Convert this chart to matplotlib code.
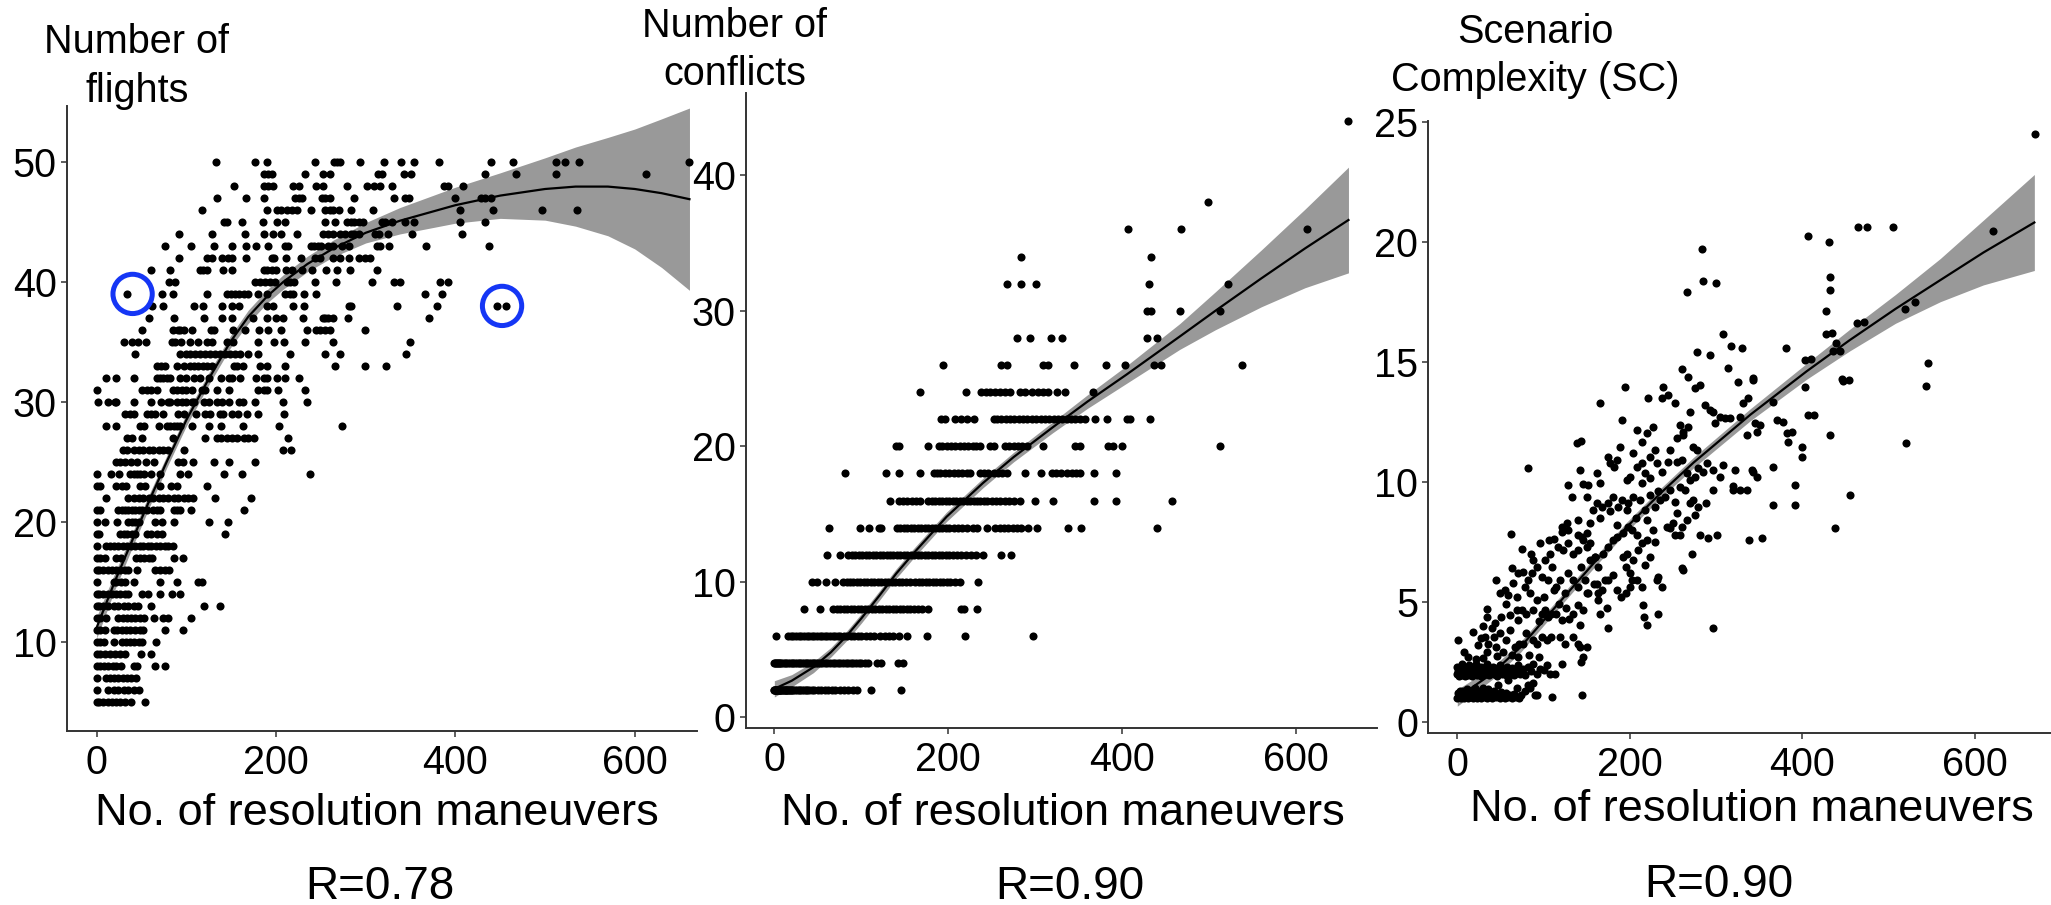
import matplotlib
matplotlib.use("Agg")
import matplotlib.pyplot as plt
import numpy as np

plt.rcParams["font.family"] = ["Liberation Sans", "DejaVu Sans"]

# ---------------- data ----------------
# panel 1: number of flights (integer levels) vs no. of resolution maneuvers
flight_levels = list(range(50, 4, -1))
flight_maneuvers = [
    [133, 177, 190, 243, 265, 268, 271, 294, 320, 339, 354, 382, 440, 464, 512, 522, 538, 661],
    [186, 191, 195, 232, 252, 260, 314, 318, 343, 351, 433, 467, 512, 612],
    [153, 186, 191, 197, 219, 226, 245, 252, 279, 301, 309, 316, 329, 387, 392, 408],
    [134, 166, 186, 221, 226, 229, 251, 255, 260, 287, 331, 344, 348, 400, 428, 433, 440],
    [117, 190, 201, 206, 212, 218, 223, 239, 255, 260, 264, 270, 284, 308, 405, 442, 497, 536],
    [142, 145, 162, 185, 201, 210, 255, 266, 279, 283, 287, 292, 297, 318, 322, 329, 344, 354, 405, 433],
    [92, 128, 165, 187, 197, 205, 223, 252, 258, 263, 271, 277, 283, 287, 292, 310, 315, 325, 352, 407],
    [76, 105, 131, 151, 167, 178, 191, 210, 213, 239, 242, 247, 250, 258, 264, 273, 281, 312, 316, 326, 367, 437],
    [92, 123, 128, 140, 146, 151, 167, 195, 198, 211, 228, 243, 249, 264, 271, 281, 292, 299, 305],
    [61, 82, 115, 119, 123, 141, 151, 186, 190, 195, 200, 211, 218, 229, 240, 256, 268, 282, 313],
    [81, 87, 176, 182, 188, 193, 199, 212, 216, 220, 243, 267, 307, 331, 338, 383, 392],
    [34, 73, 85, 123, 145, 150, 154, 159, 164, 169, 180, 190, 210, 216, 219, 231, 244, 366, 385],
    [62, 74, 108, 118, 140, 151, 159, 190, 197, 219, 231, 281, 284, 335, 379, 446, 456],
    [58, 86, 120, 140, 151, 174, 190, 200, 208, 230, 252, 255, 258, 264, 280, 371],
    [50, 85, 91, 93, 97, 106, 127, 131, 152, 165, 181, 191, 206, 234, 245, 249, 255, 260, 299],
    [30, 39, 46, 55, 84, 87, 94, 104, 113, 123, 129, 145, 152, 180, 198, 209, 232, 264, 349],
    [43, 93, 99, 104, 110, 115, 121, 126, 132, 138, 143, 149, 154, 160, 169, 180, 215, 255, 271, 345],
    [67, 72, 76, 89, 97, 104, 108, 113, 118, 123, 129, 153, 156, 163, 182, 190, 210, 266, 299, 323],
    [10, 22, 42, 67, 71, 74, 78, 82, 93, 100, 108, 115, 125, 139, 147, 151, 160, 178, 186, 190, 201, 210, 225],
    [0, 50, 56, 61, 67, 85, 89, 95, 100, 106, 117, 121, 134, 148, 180, 186, 190, 202, 232],
    [1, 12, 20, 22, 42, 60, 72, 79, 82, 89, 95, 100, 106, 109, 120, 125, 134, 140, 148, 159, 163, 176, 208, 234],
    [32, 37, 42, 56, 60, 65, 74, 91, 97, 111, 121, 126, 138, 141, 151, 157, 168, 180, 209],
    [10, 22, 48, 53, 69, 78, 82, 86, 89, 93, 106, 125, 139, 163, 203, 274],
    [34, 39, 50, 85, 121, 134, 139, 145, 151, 156, 164, 169, 175, 213],
    [29, 34, 41, 47, 52, 58, 63, 69, 74, 80, 97, 208, 217],
    [22, 26, 32, 38, 45, 55, 64, 91, 96, 107, 131, 148, 176],
    [0, 16, 25, 37, 41, 45, 48, 53, 61, 71, 93, 102, 142, 162, 238],
    [0, 4, 22, 28, 33, 48, 54, 71, 83, 89, 123],
    [10, 35, 41, 47, 52, 58, 63, 69, 74, 80, 86, 91, 97, 102, 107, 132, 172],
    [0, 4, 24, 28, 32, 35, 39, 43, 47, 50, 56, 63, 67, 71, 86, 89, 93, 105, 164],
    [0, 9, 23, 35, 39, 43, 47, 65, 73, 86, 125, 146],
    [0, 3, 26, 30, 34, 39, 43, 56, 61, 67, 73, 143],
    [0, 10, 15, 19, 24, 29, 34, 38, 43, 48, 52, 57, 61, 66, 71, 76, 80, 85],
    [0, 4, 9, 22, 27, 44, 48, 53, 58, 62, 86, 96],
    [0, 3, 7, 12, 17, 22, 26, 31, 35, 45, 65, 71, 76, 81],
    [0, 19, 22, 27, 32, 42, 70, 90, 113, 117],
    [0, 3, 7, 12, 17, 22, 26, 31, 35, 51, 57, 71, 84, 93],
    [0, 3, 7, 13, 19, 24, 30, 35, 41, 46, 61, 120, 138],
    [0, 4, 10, 24, 29, 34, 38, 43, 48, 53, 64, 74, 80, 105],
    [0, 4, 9, 19, 23, 28, 33, 37, 43, 48, 52, 76, 96],
    [0, 4, 8, 19, 28, 33, 37, 42, 47, 51, 66],
    [0, 4, 9, 15, 20, 26, 32, 49, 60],
    [0, 4, 8, 13, 18, 22, 27, 41, 45, 65, 76],
    [0, 10, 15, 19, 24, 29, 34, 38, 44],
    [0, 13, 19, 24, 30, 35, 41, 47],
    [0, 3, 7, 12, 17, 22, 26, 32, 38, 54],
]
flights_fit_x = [0, 20, 41, 60, 78, 100, 124, 149, 169, 190, 208, 235, 264, 300, 338, 400, 450, 500, 534, 570, 600, 630, 661]
flights_fit_y = [11.2, 15.0, 18.7, 22.0, 25.0, 28.5, 31.8, 35.0, 37.1, 38.8, 40.0, 41.5, 42.8, 44.1, 45.1, 46.4, 47.2, 47.75, 47.95, 47.95, 47.75, 47.4, 46.9]
flights_fit_ci = [0.9, 0.7, 0.6, 0.55, 0.5, 0.5, 0.5, 0.5, 0.55, 0.55, 0.6, 0.65, 0.7, 0.85, 1.1, 1.5, 1.9, 2.6, 3.3, 4.1, 5.0, 6.2, 7.6]
# the two circled scenarios
highlight_x = [40, 452]
highlight_y = [39, 38]

# panel 2: number of conflicts (even levels)
conflict_levels = [44, 38, 36, 34, 32, 30, 28, 26, 24, 22, 20, 18, 16, 14, 12, 10, 8, 6, 4, 2]
conflict_maneuvers = [
    [660],
    [498],
    [407, 468, 612],
    [283, 433],
    [267, 284, 301, 431, 522],
    [428, 433, 466, 512],
    [279, 294, 318, 331, 428, 440],
    [194, 261, 268, 309, 315, 344, 381, 403, 436, 445, 538],
    [167, 220, 238, 243, 248, 254, 260, 265, 271, 282, 288, 296, 303, 309, 315, 325, 334, 366],
    [192, 196, 208, 215, 222, 229, 252, 256, 261, 266, 271, 276, 281, 286, 291, 296, 301, 306, 311, 316,
     321, 326, 331, 336, 341, 346, 351, 357, 369, 382, 405, 409, 432],
    [140, 143, 177, 189, 193, 198, 203, 208, 213, 218, 223, 228, 232, 236, 248, 252, 265, 270, 275, 280,
     285, 290, 309, 346, 351, 384, 389, 400, 512],
    [81, 128, 143, 167, 183, 187, 191, 196, 201, 206, 211, 216, 221, 225, 236, 241, 246, 252, 257, 262,
     267, 288, 307, 319, 324, 330, 336, 342, 347, 351, 367, 393],
    [133, 143, 148, 153, 158, 163, 167, 177, 181, 185, 189, 193, 197, 201, 205, 209, 213, 217, 221, 225,
     229, 233, 237, 241, 245, 250, 255, 260, 265, 270, 276, 282, 300, 320, 367, 393, 457],
    [63, 98, 109, 120, 123, 141, 145, 149, 153, 157, 161, 165, 169, 173, 177, 181, 185, 189, 193, 197,
     201, 206, 211, 216, 222, 228, 233, 244, 254, 259, 264, 269, 274, 279, 284, 292, 302, 338, 353, 440],
    [61, 75, 85, 89, 93, 97, 101, 105, 109, 113, 117, 121, 125, 129, 133, 137, 141, 145, 149, 153,
     157, 161, 165, 169, 173, 177, 181, 185, 189, 193, 197, 201, 205, 210, 215, 220, 226, 232, 240, 261, 272],
    [43, 49, 59, 70, 79, 83, 87, 91, 95, 99, 103, 107, 111, 115, 119, 123, 127, 131, 135, 139,
     143, 147, 151, 156, 162, 166, 170, 174, 178, 182, 186, 190, 194, 198, 202, 208, 214, 234],
    [34, 52, 68, 72, 76, 80, 84, 88, 92, 96, 100, 104, 108, 112, 116, 120, 124, 128, 132, 136,
     140, 144, 148, 152, 156, 160, 165, 170, 177, 215, 218, 233],
    [2, 16, 19, 22, 25, 28, 31, 34, 37, 40, 43, 46, 49, 52, 55, 58, 61, 64, 67, 70,
     73, 76, 80, 84, 88, 92, 96, 100, 105, 110, 115, 122, 127, 132, 137, 143, 152, 175, 219, 297],
    [0, 1, 2, 3, 4, 5, 6, 8, 10, 12, 14, 16, 18, 20, 22, 24, 26, 28, 30, 32, 34, 36, 38, 40, 42, 44, 46,
     48, 50, 52, 55, 58, 61, 64, 67, 70, 73, 76, 79, 82, 85, 88, 91, 94, 97, 100, 104, 108, 118, 123, 142, 148],
    [0, 0, 1, 1, 2, 2, 3, 3, 4, 5, 5, 6, 7, 8, 9, 10, 11, 12, 13, 14, 15, 16, 17, 18, 19, 20, 22, 24,
     26, 28, 30, 32, 34, 36, 38, 40, 43, 46, 50, 54, 58, 62, 66, 70, 75, 80, 85, 90, 95, 111, 146],
]
conflicts_fit_x = [0, 20, 45, 65, 83, 100, 121, 140, 160, 198, 240, 275, 320, 360, 405, 466, 507, 560, 610, 660]
conflicts_fit_y = [2.1, 2.7, 3.7, 4.8, 6.0, 7.3, 9.0, 10.6, 12.1, 14.8, 17.3, 19.2, 21.4, 23.3, 25.3, 28.1, 30.0, 32.4, 34.6, 36.7]
conflicts_fit_ci = [0.6, 0.45, 0.4, 0.35, 0.35, 0.35, 0.35, 0.35, 0.35, 0.35, 0.35, 0.35, 0.4, 0.5, 0.65, 0.95, 1.4, 2.1, 2.9, 3.9]

# panel 3: scenario complexity, (maneuvers, SC) pairs
sc_low_band = [
    (0, 1.0), (1, 1.2), (2, 1.1), (3, 1.3), (4, 1.0), (5, 1.15), (6, 1.05), (7, 1.3), (8, 1.0), (9, 1.2),
    (10, 1.1), (11, 1.35), (12, 1.0), (13, 1.2), (14, 1.05), (15, 1.3), (16, 1.1), (18, 1.0), (19, 1.25),
    (20, 1.4), (21, 1.1), (23, 1.0), (24, 1.3), (26, 1.15), (27, 1.0), (29, 1.25), (30, 1.4), (32, 1.05),
    (33, 1.2), (35, 1.0), (36, 1.35), (38, 1.1), (40, 1.0), (41, 1.2), (43, 1.3), (45, 1.05), (47, 1.15),
    (49, 1.0), (51, 1.25), (53, 1.1), (55, 1.0), (57, 1.2), (59, 1.05), (61, 1.1), (64, 1.0), (66, 1.15),
    (68, 1.05), (71, 1.0), (74, 1.1), (78, 1.3), (84, 1.4), (90, 1.1), (110, 1.04), (145, 1.11),
    (47.5, 1.53), (59, 1.74), (68.8, 1.39), (82.3, 1.53), (88, 1.6), (92, 1.11),
]
sc_second_band = [
    (0, 2.0), (0, 2.3), (1, 2.1), (2, 1.9), (3, 2.2), (4, 2.0), (5, 2.4), (6, 1.95), (7, 2.1), (8, 2.25),
    (9, 1.9), (10, 2.05), (12, 2.2), (13, 1.95), (14, 2.35), (16, 2.1), (17, 1.9), (19, 2.2), (20, 2.0),
    (22, 2.4), (23, 1.95), (25, 2.15), (27, 2.3), (28, 1.9), (30, 2.05), (32, 2.25), (33, 2.0), (35, 2.4),
    (37, 1.95), (39, 2.15), (41, 2.3), (42, 2.0), (44, 2.2), (46, 1.9), (48, 2.1), (50, 2.35), (52, 2.0),
    (54, 2.2), (56, 1.95), (58, 2.3), (60, 2.1), (62, 2.0), (64, 2.25), (66, 1.95), (68, 2.15), (70, 2.35),
    (73, 2.0), (76, 2.2), (79, 1.95), (82, 2.3), (85, 2.1), (88, 2.4), (92, 2.0), (96, 2.2), (100, 2.15),
    (104, 2.35), (108, 2.0), (113, 2.0), (121, 2.4),
]
sc_low_mid = [
    (1.2, 3.4), (18.6, 3.72), (24, 3.19), (28, 3.47), (32, 3.54), (22, 2.6), (30, 2.64), (36, 3.26),
    (42, 3.54), (50, 3.68), (57, 3.4), (61, 3.82), (67, 3.13), (72, 3.26), (45, 3.13), (40, 3.9), (53, 2.9),
    (76, 3.26), (80, 3.68), (88, 3.4), (92, 3.26), (98, 3.54), (104, 3.4), (109, 3.54), (83, 2.8), (95, 2.7),
    (119, 3.54), (125, 3.26), (134, 3.54), (140, 3.26), (142, 3.13), (146, 2.71), (150, 3.13), (143, 2.5),
    (64, 2.8), (12, 2.7), (8, 2.9), (35, 2.9), (46, 2.75), (70, 2.7),
    (35, 4.68), (35, 4.35), (51, 4.35), (61, 4.44), (69, 4.65), (70, 4.24), (75, 4.65), (80, 4.51),
    (84, 5.35), (88, 4.65), (92, 5.07), (98, 4.51), (102, 4.65), (105, 4.38), (109, 4.51), (115, 4.51),
    (121, 4.24), (126, 4.72), (134, 4.51), (140, 4.86), (142, 4.03), (146, 4.65), (152, 5.35), (158, 5.76),
    (163, 5.07), (165, 4.51), (173, 4.72), (175, 3.89), (56, 4.9), (44, 4.1), (30, 4.0), (118, 4.9),
    (129, 4.3), (95, 4.2),
]
sc_mid = [
    (44.8, 5.9), (49.5, 5.35), (59, 5.28), (63, 6.39), (69.6, 5.21), (70.7, 6.18), (75.7, 6.25), (78.5, 5.63),
    (82.3, 5.9), (86.2, 6.18), (88.1, 6.74), (92, 6.46), (97.8, 6.04), (101.6, 6.74), (105.5, 5.9),
    (107.4, 7.01), (109.4, 6.46), (115, 5.63), (119, 5.9), (124.8, 5.35), (128.7, 6.18), (134.5, 5.9),
    (140, 5.63), (144, 6.46), (148, 5.9), (150, 5.35), (159.6, 6.88), (161.5, 5.76), (163.5, 5.35),
    (167.3, 5.49), (171.2, 5.9), (196, 5.35), (200, 5.63), (202, 5.9), (196, 6.46), (200, 6.18), (208, 5.9),
    (214, 5.63), (217.6, 6.53), (215, 4.86), (217, 4.38), (219.5, 4.03), (233, 4.51), (236.9, 5.63),
    (231, 5.9), (180, 6.1), (185, 5.5), (190, 5.2), (175, 5.9), (55, 5.5), (65, 5.8), (100, 5.2), (112, 5.5),
    (62, 7.82), (96, 7.43), (106, 7.57), (121, 7.92), (117, 7.29), (123, 7.15), (128, 7.43), (134, 7.01),
    (140, 7.15), (146, 7.57), (150, 7.29), (153.8, 6.74), (159.6, 6.88), (163.5, 6.46), (169.3, 7.01),
    (175, 7.29), (181, 7.57), (184.7, 7.71), (153.8, 7.43), (192.5, 6.88), (196.3, 7.01), (204, 6.74),
    (209.9, 7.15), (213.7, 7.43), (219.5, 7.57), (223.4, 6.88), (229.2, 7.5), (233, 6.04), (192.5, 7.85),
    (198.3, 8.13), (202, 7.99), (207.9, 7.78), (219.5, 8.4), (227.2, 7.99), (242.7, 8.13), (246.6, 8.06),
    (252.4, 7.78), (258.2, 7.78), (260.1, 6.39), (262, 6.32), (271.7, 7.01), (281.4, 7.78), (291, 7.64),
    (300.7, 7.78), (338.6, 7.57), (352.8, 7.64), (140, 7.8), (128, 8.0), (112, 7.6), (85, 7.0), (75, 7.2),
    (296.8, 3.89),
]
sc_upper_mid = [
    (121, 8.1), (126.8, 8.26), (140.3, 8.4), (144.2, 7.71), (150, 7.85), (153.8, 8.26), (157.7, 8.82),
    (161.5, 9.1), (167.3, 8.96), (175.1, 9.1), (180.9, 9.38), (186.7, 8.96), (190.5, 9.24), (177, 8.8),
    (196.3, 8.82), (198.3, 9.1), (204, 9.38), (211.8, 9.24), (217.6, 8.82), (223.4, 9.44), (229.2, 8.96),
    (233, 9.6), (235, 9.24), (240.8, 9.38), (246.6, 9.65), (252.4, 9.17), (258.2, 9.79), (264, 9.65),
    (269.8, 9.1), (273.6, 9.24), (279.4, 8.96), (275.6, 8.61), (265.9, 8.4), (260.1, 8.13), (254.3, 8.68),
    (296.8, 9.65), (320, 9.65), (327.7, 9.65), (335.5, 9.65), (366.4, 9.03), (391.5, 9.03), (165, 8.5),
    (185, 8.2), (207, 8.5), (250, 8.3), (288, 9.1),
    (81.5, 10.56), (128.7, 9.86), (133.3, 9.38), (142.2, 10.49), (143, 11.7), (146, 9.9), (139, 11.6),
    (150, 9.38), (151.9, 9.86), (161.5, 10.35), (165.4, 9.93), (175.1, 11.04), (177, 10.76), (182, 10.6),
    (184.7, 10.9), (188.6, 11.46), (196.3, 10.07), (200.2, 10.21), (207.9, 10.63), (213.7, 10.76),
    (217.6, 10.35), (223.4, 11.04), (229.2, 11.32), (231.1, 10.76), (204, 11.2), (213.7, 9.93),
    (223.4, 10.14), (236.9, 10.42), (244.6, 10.83), (254.3, 10.83), (260.1, 10.9), (265.9, 10.35),
    (269.8, 10.07), (275.6, 10.21), (279.4, 10.56), (246.6, 11.32), (254.3, 11.81), (262, 11.94),
    (285.2, 10.42), (296.8, 10.49), (304.5, 10.21), (308.4, 10.69), (289.1, 10.76), (319.2, 9.82),
    (321.9, 10.49), (341.3, 10.49), (343.2, 10.42), (347, 10.21), (335.5, 11.94), (366.4, 10.63),
    (391.5, 9.86), (399.2, 11.04), (432, 11.94), (455.3, 9.44), (437.9, 8.06), (520, 11.6),
]
sc_high = [
    (166, 13.26), (194.4, 13.96), (190.5, 12.57), (207.9, 12.15), (213.7, 11.67), (221.4, 13.47),
    (219.5, 12.01), (227.2, 12.29), (236.9, 13.47), (238.8, 13.96), (244.6, 13.61), (252.4, 13.26),
    (258.2, 12.36), (262, 12.08), (267.8, 12.29), (269.8, 12.92), (273.6, 11.46), (275.6, 13.89),
    (277.5, 11.32), (287.2, 13.19), (293, 12.99), (296.8, 12.92), (298.7, 12.43), (304.5, 12.71),
    (310.3, 12.64), (316.1, 12.64), (281.4, 14.03), (325.8, 14.17), (327.7, 12.71), (331.6, 13.26),
    (337.4, 13.47), (345.1, 12.43), (347, 12.08), (350.9, 12.36), (343.2, 14.24), (366.4, 13.33),
    (370.2, 12.57), (378, 12.5), (381.8, 12.01), (387.6, 12.08), (383.8, 11.67), (399.2, 11.46),
    (403.1, 13.96), (407, 12.78), (446.8, 14.2),
    (260, 14.68), (267.8, 14.38), (266.7, 17.89), (283.3, 19.68), (284.4, 18.35), (300, 18.29),
    (308.4, 16.15), (317, 15.67), (278.3, 15.42), (293, 15.3), (314, 14.75), (330.4, 15.58), (342.4, 14.33),
    (381, 15.58), (403, 15.07), (407, 20.25), (431.3, 19.97), (432, 18.54), (432, 17.99), (428, 17.12),
    (427, 16.14), (436, 15.44), (439, 15.79), (445.6, 14.26), (463, 16.62), (465, 20.62), (474.7, 20.63),
    (504.7, 20.63), (519.6, 17.2), (530.5, 17.5), (472, 16.67), (545.6, 14.93), (543.4, 13.99),
    (621, 20.46), (669.8, 24.49), (454, 14.24), (414, 12.78), (410, 15.1), (443.6, 15.46), (434, 16.2),
]
complexity_fit_x = [0, 40, 73, 119, 158, 196, 235, 274, 340, 405, 455, 508, 560, 610, 669]
complexity_fit_y = [1.0, 2.0, 3.1, 5.0, 6.6, 8.1, 9.5, 10.8, 12.8, 14.6, 15.9, 17.2, 18.4, 19.55, 20.8]
complexity_fit_ci = [0.35, 0.25, 0.22, 0.2, 0.2, 0.2, 0.2, 0.22, 0.25, 0.33, 0.45, 0.6, 0.9, 1.35, 2.0]

panel_titles = [["Number of", "flights"], ["Number of", "conflicts"], ["Scenario", "Complexity (SC)"]]
x_title = "No. of resolution maneuvers"
r_labels = ["R=0.78", "R=0.90", "R=0.90"]
x_ticks = [0, 200, 400, 600]

# ---------------- build point lists ----------------
fx = [x for xs in flight_maneuvers for x in xs]
fy = [lv for lv, xs in zip(flight_levels, flight_maneuvers) for _ in xs]
cx = [x for xs in conflict_maneuvers for x in xs]
cy = [lv for lv, xs in zip(conflict_levels, conflict_maneuvers) for _ in xs]
sc_pts = sc_low_band + sc_second_band + sc_low_mid + sc_mid + sc_upper_mid + sc_high
sx = [p[0] for p in sc_pts]
sy = [p[1] for p in sc_pts]

# ---------------- figure ----------------
W, H = 2051, 905
fig = plt.figure(figsize=(W / 100, H / 100), dpi=100)


def px_axes(left, top, right, bottom):
    return fig.add_axes([left / W, 1 - bottom / H, (right - left) / W, (bottom - top) / H])


ax1 = px_axes(66.7, 106, 697, 730.7)
ax2 = px_axes(745.7, 93.3, 1377, 728.3)
ax3 = px_axes(1428.3, 120.7, 2051, 733.3)

panels = [
    (ax1, fx, fy, flights_fit_x, flights_fit_y, flights_fit_ci, (-33.5, 669.4), (2.58, 54.67), [10, 20, 30, 40, 50]),
    (ax2, cx, cy, conflicts_fit_x, conflicts_fit_y, conflicts_fit_ci, (-32.9, 692.8), (-0.81, 46.05), [0, 10, 20, 30, 40]),
    (ax3, sx, sy, complexity_fit_x, complexity_fit_y, complexity_fit_ci, (-33.6, 688.3), (-0.48, 25.04), [0, 5, 10, 15, 20, 25]),
]

for ax, x, y, fitx, fity, ci, xl, yl, yt in panels:
    fitx = np.array(fitx)
    fity = np.array(fity)
    ci = np.array(ci)
    ax.fill_between(fitx, fity - ci, fity + ci, color="#999999", lw=0, zorder=1)
    ax.scatter(x, y, s=34, color="black", linewidths=0, zorder=2)
    ax.plot(fitx, fity, color="black", lw=1.6, zorder=3)
    ax.set_xlim(*xl)
    ax.set_ylim(*yl)
    ax.set_xticks(x_ticks)
    ax.set_yticks(yt)
    for side in ["top", "right"]:
        ax.spines[side].set_visible(False)
    for side in ["left", "bottom"]:
        ax.spines[side].set_color("#333333")
        ax.spines[side].set_linewidth(1.4)
    ax.tick_params(axis="both", length=4.3, width=1.1, color="#333333", labelsize=28.5, labelcolor="black")
    ax.tick_params(axis="x", pad=5)
    ax.tick_params(axis="y", pad=3)
    ax.patch.set_alpha(0)

# circled scenarios in the first panel
ax1.scatter(highlight_x, highlight_y, s=800, facecolors="none", edgecolors="#1536f5", linewidths=3.6, zorder=4)

# panel titles (two lines each)
title_pos = [(137, 53, 101.7), (735, 37, 85), (1535, 43, 91)]
for (cxp, y1, y2), lines in zip(title_pos, panel_titles):
    fig.text(cxp / W, 1 - y1 / H, lines[0], ha="center", va="baseline", fontsize=28.5)
    fig.text(cxp / W, 1 - y2 / H, lines[1], ha="center", va="baseline", fontsize=28.5)

# x titles and R values
xt_pos = [(377, 825), (1063, 825), (1752, 821)]
r_pos = [(380, 899), (1070, 899), (1719, 897)]
for (xp, yp), (rx, ry), rl in zip(xt_pos, r_pos, r_labels):
    fig.text(xp / W, 1 - yp / H, x_title, ha="center", va="baseline", fontsize=32.5)
    fig.text(rx / W, 1 - ry / H, rl, ha="center", va="baseline", fontsize=33)

fig.savefig("out.png", dpi=100)
